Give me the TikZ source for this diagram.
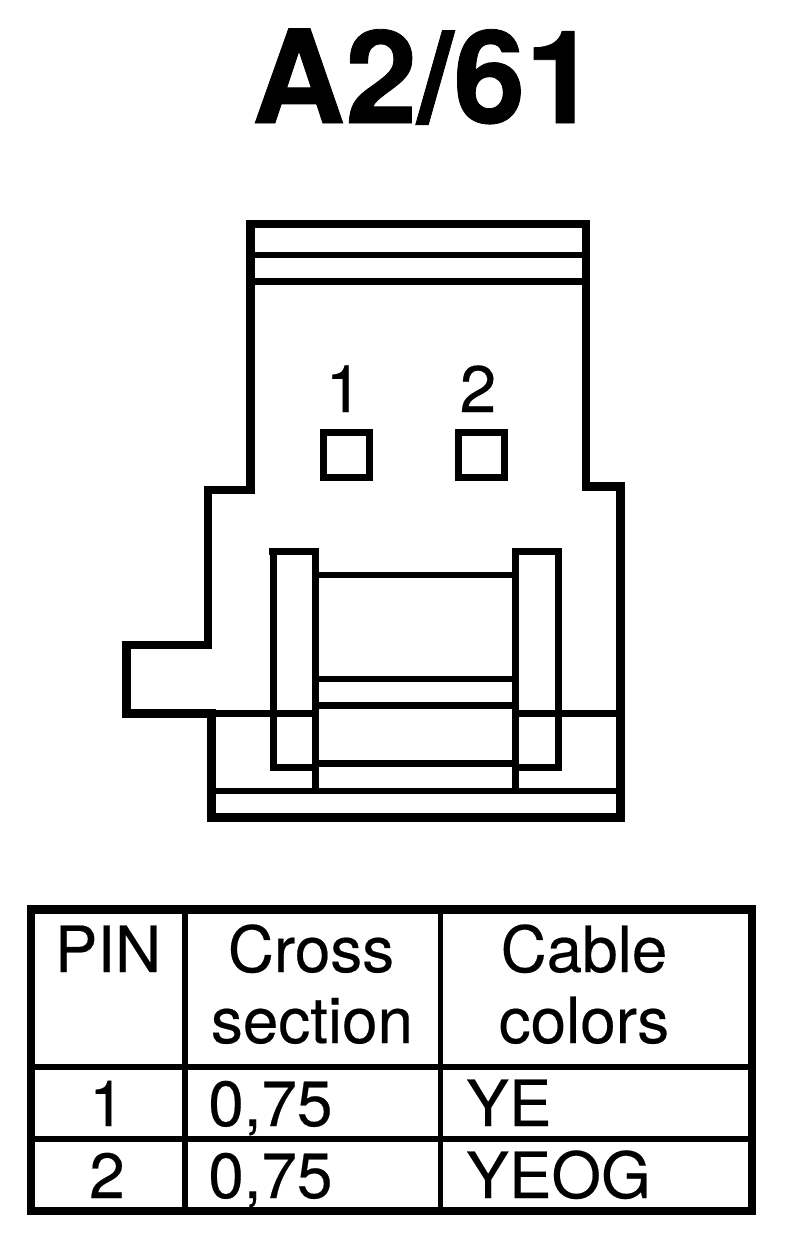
\documentclass[tikz,border=0pt]{standalone}
\usepackage{fontspec}
\setmainfont{TeX Gyre Heros}[FakeBold=0.3, BoldFeatures={FakeBold=0.6}]
\tikzset{
	wall/.style={line width=5.1pt, color=black},
	rule/.style={line width=3.7pt, color=black},
	pinbox/.style={line width=3.7pt, color=black},
	grid/.style={line width=3.4pt, color=black},
	frame/.style={line width=5.1pt, color=black},
	title/.style={font=\fontsize{73.7}{80}\selectfont\bfseries, anchor=base, inner sep=0},
	pinno/.style={font=\fontsize{37.4}{40}\selectfont, anchor=base, inner sep=0},
	cell/.style={font=\fontsize{36.3}{40}\selectfont, anchor=base, inner sep=0},
	leftcell/.style={cell, anchor=base west}
}

\begin{document}
\begin{tikzpicture}[x=0.02cm, y=-0.02cm]
		%%%%% START %%%%%
		\useasboundingbox (0, 0) rectangle (800, 1252);
		
		\node[title] (heading) at (424.5, 123) {A2/61};
		
		% housing
		\draw[wall] (250.5, 224) -- (250.5, 490) -- (208, 490) -- (208, 645) -- (126.5, 645) -- (126.5, 713.5) -- (211.5, 713.5) -- (211.5, 817.5) -- (620.5, 817.5) -- (620.5, 486.5) -- (586, 486.5) -- (586, 224) -- cycle;
		\draw[rule] (250, 255) -- (586, 255);
		\draw[rule] (250, 281.5) -- (586, 281.5);
		
		% pins
		\node[pinno] (pinone) at (344, 412) {1};
		\node[pinno] (pintwo) at (478, 412) {2};
		\draw[pinbox] (323.3, 432.3) rectangle (369.7, 477.7);
		\draw[pinbox] (458.5, 432.3) rectangle (504.5, 477.7);
		
		% latch
		\draw[rule] (269, 551.5) -- (319, 551.5);
		\draw[rule] (512, 551.5) -- (562, 551.5);
		\draw[rule] (273.5, 551.5) -- (273.5, 767.5) -- (315.5, 767.5);
		\draw[rule] (558.5, 551.5) -- (558.5, 767.5) -- (515.5, 767.5);
		\draw[rule] (315.5, 551.5) -- (315.5, 791);
		\draw[rule] (515.5, 551.5) -- (515.5, 791);
		\draw[rule] (315.5, 575) -- (515.5, 575);
		\draw[rule] (315.5, 679) -- (515.5, 679);
		\draw[rule] (315.5, 705.5) -- (515.5, 705.5);
		\draw[rule] (315.5, 763.5) -- (515.5, 763.5);
		
		\draw[rule] (211.5, 713.5) -- (315.5, 713.5);
		\draw[rule] (515.5, 713.5) -- (620.5, 713.5);
		\draw[rule] (211.5, 791) -- (620.5, 791);
		
		% table
		\draw[frame] (31, 909.5) rectangle (752, 1211);
		\draw[grid] (185, 909.5) -- (185, 1211);
		\draw[grid] (440.5, 909.5) -- (440.5, 1211);
		\draw[rule] (31, 1067) -- (752, 1067);
		\draw[rule] (31, 1139) -- (752, 1139);
		
		\node[cell] (headpin) at (108, 972) {PIN};
		\node[cell] (headcross) at (311, 972) {Cross};
		\node[cell] (headsection) at (312, 1043) {section};
		\node[cell] (headcable) at (584, 972) {Cable};
		\node[cell] (headcolors) at (584, 1043) {colors};
		
		\node[cell] (rowone) at (107, 1126) {1};
		\node[leftcell] (sizeone) at (208, 1126) {0,75};
		\node[leftcell] (colorone) at (466, 1126) {YE};
		
		\node[cell] (rowtwo) at (107, 1198) {2};
		\node[leftcell] (sizetwo) at (208, 1198) {0,75};
		\node[leftcell] (colortwo) at (466, 1198) {YEOG};
		
		%%%%% END %%%%%
	\end{tikzpicture}
\end{document}
